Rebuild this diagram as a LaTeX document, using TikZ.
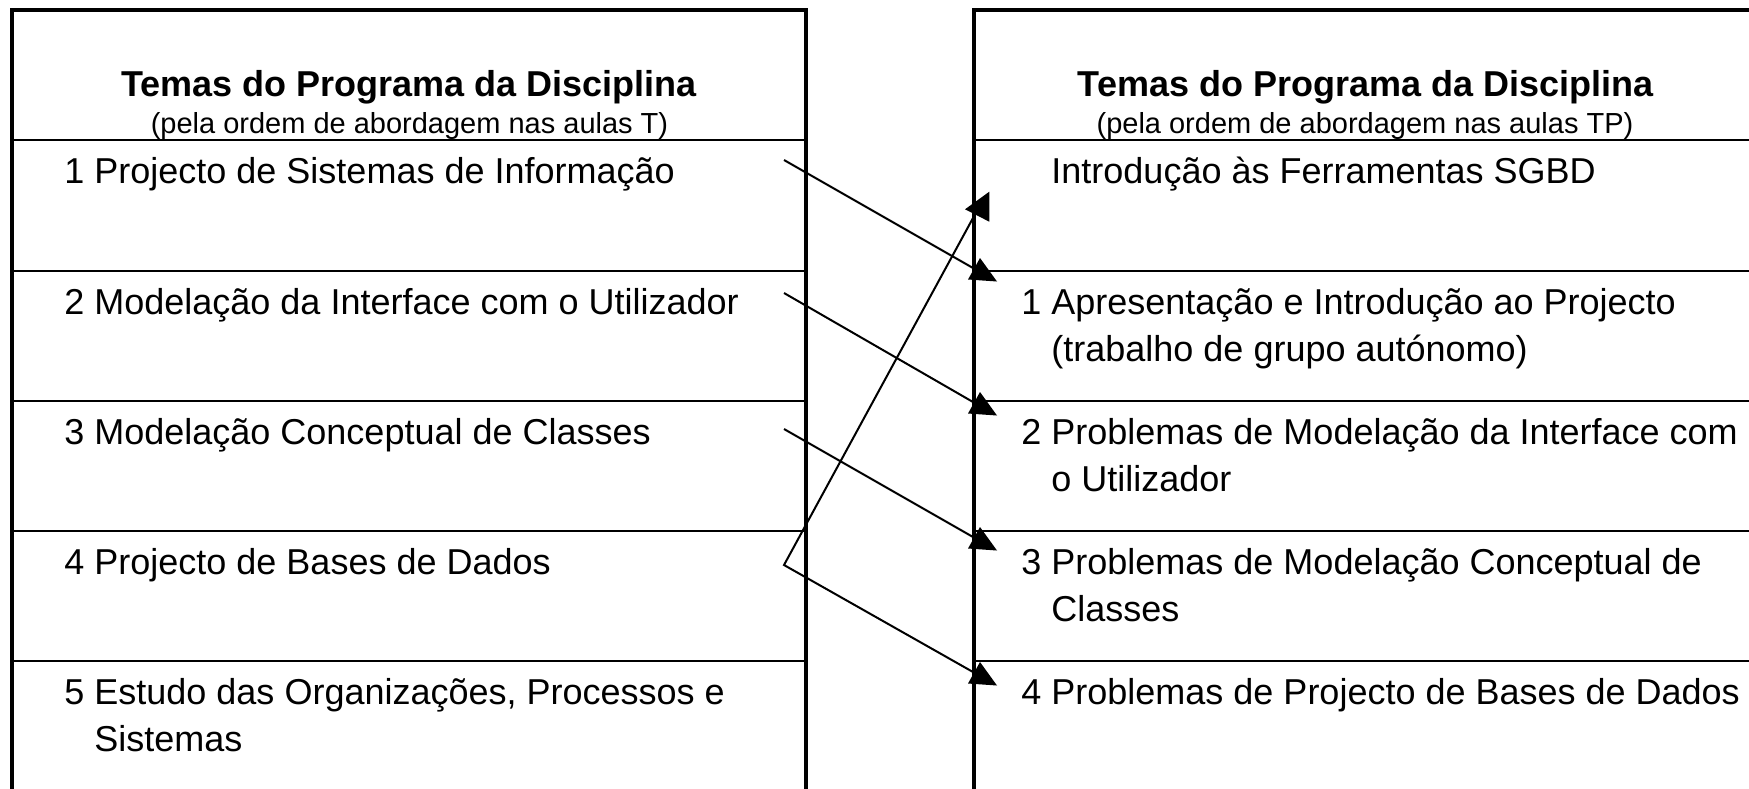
\documentclass[tikz,border=0pt]{standalone}
\usepackage{fontspec}
\setmainfont{Liberation Sans}
\usetikzlibrary{positioning}

\tikzset{
  frame/.style={line width=1.75pt},
  rowline/.style={line width=0.6pt},
  title/.style={anchor=base, inner sep=0pt, font=\fontsize{18}{22}\selectfont\bfseries},
  subtitle/.style={anchor=base, inner sep=0pt, font=\fontsize{14.5}{17}\selectfont},
  item/.style={anchor=base west, inner sep=0pt, align=left, font=\fontsize{18}{23.5}\selectfont},
  link/.style={line width=1pt},
}

\begin{document}
\begin{tikzpicture}[x=0.5pt, y=-0.5pt]
  \useasboundingbox (0,0) rectangle (1749,788);
  \clip (0,0) rectangle (1749,788);
  % the two columns
  \draw[frame] (12,800) -- (12,10) -- (806,10) -- (806,800);
  \draw[frame] (974,800) -- (974,10) -- (1760,10);
  \foreach \y in {140,271,401,531,661} {
    \draw[rowline] (12,\y) -- (806,\y);
    \draw[rowline] (974,\y) -- (1760,\y);
  }

  % headers
  \node[title] (lt) at (409,96.7) {Temas do Programa da Disciplina};
  \node[subtitle] (ls) at (409.5,133.5) {(pela ordem de abordagem nas aulas T)};
  \node[title] (rt) at (1365.5,96.7) {Temas do Programa da Disciplina};
  \node[subtitle] (rs) at (1365,133.5) {(pela ordem de abordagem nas aulas TP)};

  % left column: aulas T (two-line items sit on their last baseline)
  \node[item] (l1) at (64,183) {1 Projecto de Sistemas de Informação};
  \node[item] (l2) at (64,314) {2 Modelação da Interface com o Utilizador};
  \node[item] (l3) at (64,444) {3 Modelação Conceptual de Classes};
  \node[item] (l4) at (64,574) {4 Projecto de Bases de Dados};
  \node[item] (l5) at (64,751) {5 Estudo das Organizações, Processos e\\\hphantom{5 }Sistemas};

  % right column: aulas TP
  \node[item] (r0) at (1021,183) {\hphantom{1 }Introdução às Ferramentas SGBD};
  \node[item] (r1) at (1021,361) {1 Apresentação e Introdução ao Projecto\\\hphantom{1 }(trabalho de grupo autónomo)};
  \node[item] (r2) at (1021,491) {2 Problemas de Modelação da Interface com\\\hphantom{2 }o Utilizador};
  \node[item] (r3) at (1021,621) {3 Problemas de Modelação Conceptual de\\\hphantom{3 }Classes};
  \node[item] (r4) at (1021,704) {4 Problemas de Projecto de Bases de Dados};

  % connectors
  \coordinate (s1) at (784,160);
  \coordinate (s2) at (784,293);
  \coordinate (s3) at (784,429);
  \coordinate (s4) at (784,565);
  \coordinate (e0) at (973,218);
  \coordinate (e1) at (973,268);
  \coordinate (e2) at (973,402);
  \coordinate (e3) at (973,537);
  \coordinate (e4) at (973,672);
  \draw[link] (s1) -- (e1);
  \draw[link] (s2) -- (e2);
  \draw[link] (s3) -- (e3);
  \draw[link] (e0) -- (s4) -- (e4);
  \foreach \e in {e1,e2,e3,e4}
    \fill (\e) ++(7,-10) -- ++(-12,21.5) -- ++(29,2) -- cycle;
  \fill (e0) ++(-8,-8.7) -- ++(24.3,-17.6) -- ++(0,30) -- cycle;
\end{tikzpicture}
\end{document}
